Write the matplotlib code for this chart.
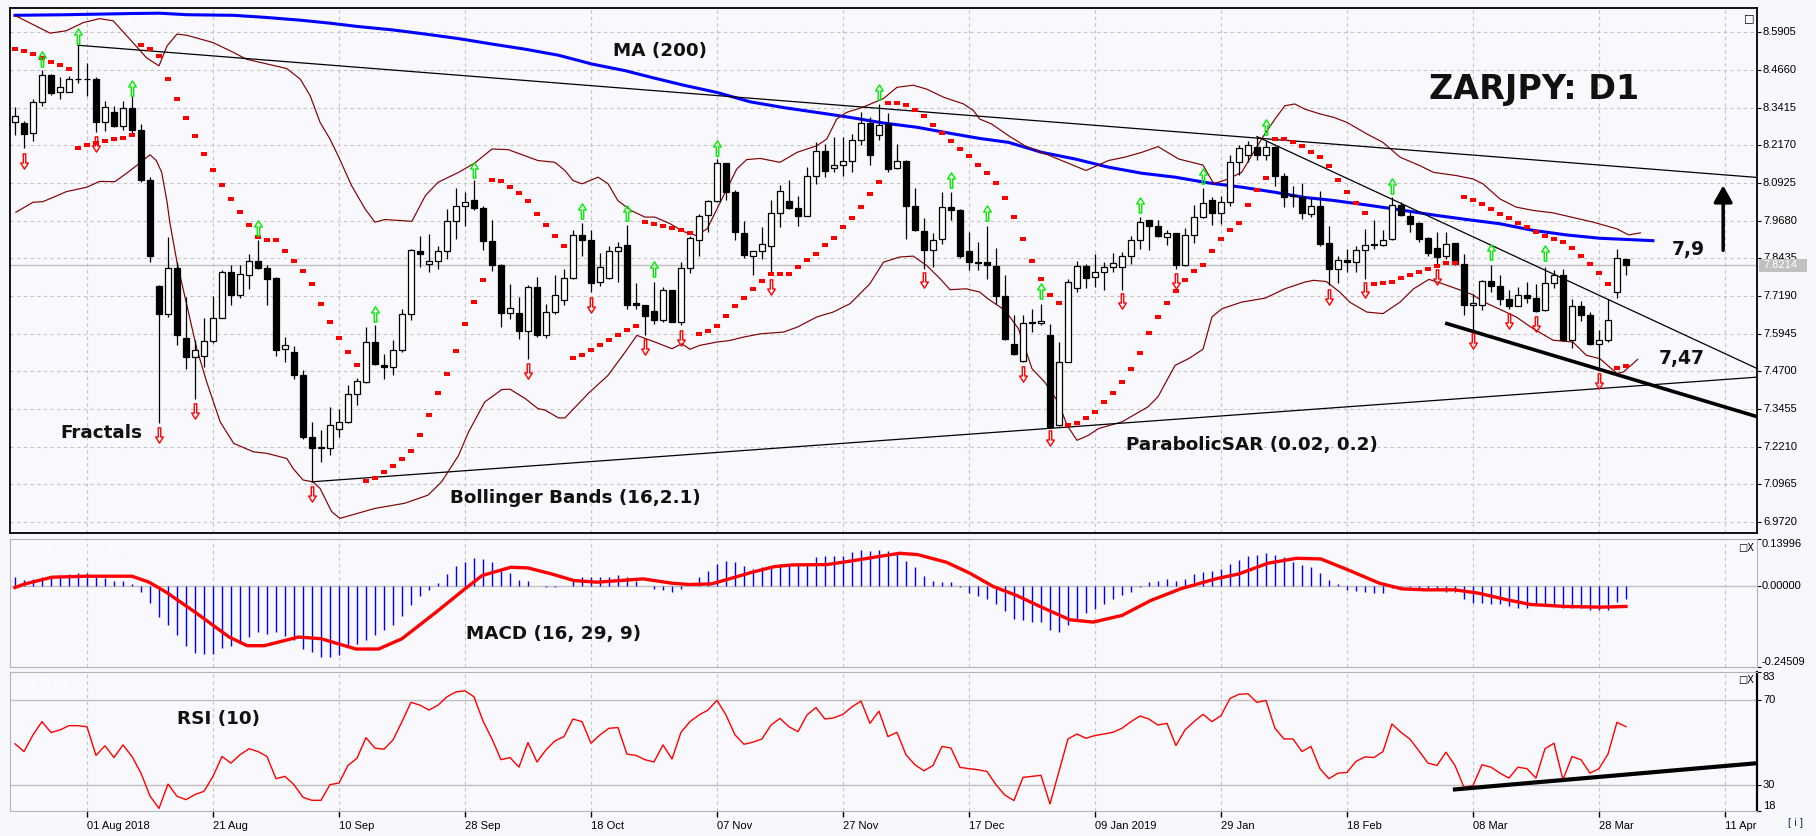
import matplotlib
matplotlib.use("Agg")
import matplotlib.pyplot as plt
from matplotlib.path import Path
from matplotlib.patches import Rectangle

##############################
# Donnees (barres D1, index 0..179)

opens = [8.296, 8.290, 8.257, 8.362, 8.451, 8.392, 8.392, 8.437, 8.437, 8.435,
         8.296, 8.326, 8.280, 8.342, 8.269, 8.101, 7.752, 7.659, 7.811, 7.580,
         7.518, 7.521, 7.570, 7.646, 7.798, 7.721, 7.790, 7.834, 7.811, 7.779,
         7.545, 7.534, 7.459, 7.254, 7.217, 7.217, 7.278, 7.303, 7.396, 7.435,
         7.567, 7.492, 7.484, 7.540, 7.661, 7.867, 7.826, 7.834, 7.867, 7.967,
         8.018, 8.038, 8.009, 7.900, 7.820, 7.663, 7.664, 7.603, 7.749, 7.591,
         7.666, 7.707, 7.778, 7.922, 7.905, 7.765, 7.778, 7.867, 7.888, 7.697,
         7.690, 7.669, 7.639, 7.738, 7.633, 7.811, 7.905, 7.987, 8.033, 8.158,
         8.064, 7.928, 7.851, 7.867, 7.886, 7.993, 8.033, 8.009, 7.983, 8.117,
         8.200, 8.141, 8.153, 8.167, 8.236, 8.290, 8.252, 8.288, 8.141, 8.167,
         8.018, 7.933, 7.870, 7.908, 8.015, 8.005, 7.867, 7.831, 7.831, 7.818,
         7.719, 7.562, 7.504, 7.633, 7.629, 7.591, 7.292, 7.501, 7.745, 7.818,
         7.782, 7.798, 7.815, 7.815, 7.851, 7.905, 7.969, 7.950, 7.914, 7.927,
         7.820, 7.922, 7.980, 8.038, 7.994, 8.029, 8.163, 8.185, 8.211, 8.185,
         8.211, 8.117, 8.053, 8.046, 7.991, 8.016, 7.894, 7.807, 7.839, 7.831,
         7.870, 7.889, 7.889, 7.908, 8.021, 7.985, 7.960, 7.910, 7.877, 7.850,
         7.894, 7.826, 7.688, 7.690, 7.768, 7.752, 7.708, 7.686, 7.723, 7.712,
         7.672, 7.762, 7.787, 7.573, 7.686, 7.657, 7.562, 7.575, 7.732, 7.840]
highs = [8.345, 8.299, 8.372, 8.466, 8.452, 8.442, 8.447, 8.548, 8.491, 8.442,
         8.365, 8.348, 8.365, 8.379, 8.288, 8.112, 7.754, 7.914, 7.831, 7.716,
         7.573, 7.646, 7.719, 7.804, 7.820, 7.820, 7.858, 7.903, 7.820, 7.781,
         7.583, 7.554, 7.476, 7.303, 7.276, 7.353, 7.344, 7.424, 7.448, 7.617,
         7.622, 7.528, 7.573, 7.677, 7.873, 7.919, 7.925, 7.884, 8.007, 8.075,
         8.062, 8.101, 8.018, 7.969, 7.826, 7.760, 7.716, 7.754, 7.782, 7.694,
         7.787, 7.809, 7.936, 7.961, 7.936, 7.861, 7.885, 7.897, 7.954, 7.763,
         7.690, 7.765, 7.749, 7.740, 7.831, 7.919, 7.991, 8.038, 8.172, 8.159,
         8.068, 7.967, 7.868, 7.947, 8.035, 8.086, 8.101, 8.051, 8.145, 8.227,
         8.222, 8.244, 8.246, 8.255, 8.329, 8.310, 8.354, 8.323, 8.222, 8.168,
         8.076, 7.977, 7.927, 8.062, 8.062, 8.006, 7.932, 7.897, 7.950, 7.877,
         7.787, 7.657, 7.655, 7.677, 7.694, 7.627, 7.567, 7.776, 7.836, 7.826,
         7.858, 7.831, 7.861, 7.864, 7.917, 7.980, 7.972, 7.972, 7.936, 7.928,
         7.943, 8.020, 8.075, 8.046, 8.049, 8.186, 8.218, 8.232, 8.246, 8.232,
         8.216, 8.125, 8.084, 8.093, 8.042, 8.065, 7.950, 7.853, 7.875, 7.883,
         7.941, 7.972, 7.936, 8.046, 8.031, 7.996, 7.963, 7.913, 7.930, 7.932,
         7.895, 7.858, 7.727, 7.771, 7.820, 7.787, 7.738, 7.749, 7.767, 7.760,
         7.815, 7.806, 7.809, 7.710, 7.701, 7.666, 7.608, 7.710, 7.875, 7.841]
lows = [8.252, 8.207, 8.233, 8.348, 8.384, 8.370, 8.392, 8.423, 8.381, 8.262,
        8.266, 8.279, 8.269, 8.249, 8.097, 7.831, 7.300, 7.650, 7.556, 7.479,
        7.380, 7.485, 7.564, 7.645, 7.688, 7.714, 7.743, 7.810, 7.690, 7.520,
        7.501, 7.446, 7.246, 7.105, 7.171, 7.193, 7.254, 7.298, 7.358, 7.430,
        7.490, 7.446, 7.457, 7.534, 7.639, 7.815, 7.798, 7.807, 7.840, 7.906,
        7.950, 8.002, 7.870, 7.801, 7.617, 7.642, 7.578, 7.512, 7.584, 7.580,
        7.661, 7.688, 7.774, 7.853, 7.732, 7.751, 7.774, 7.765, 7.677, 7.677,
        7.589, 7.628, 7.633, 7.632, 7.622, 7.795, 7.853, 7.930, 8.031, 8.038,
        7.903, 7.844, 7.790, 7.842, 7.790, 7.947, 8.007, 7.952, 7.982, 8.090,
        8.112, 8.130, 8.117, 8.130, 8.218, 8.153, 8.236, 8.130, 8.139, 7.906,
        7.935, 7.809, 7.815, 7.892, 7.972, 7.845, 7.804, 7.804, 7.774, 7.694,
        7.573, 7.523, 7.501, 7.600, 7.622, 7.285, 7.291, 7.500, 7.734, 7.745,
        7.749, 7.740, 7.798, 7.738, 7.826, 7.873, 7.870, 7.915, 7.888, 7.807,
        7.818, 7.895, 7.976, 7.955, 7.958, 8.016, 8.119, 8.163, 8.169, 8.170,
        8.082, 8.013, 8.013, 7.974, 7.980, 7.884, 7.754, 7.762, 7.798, 7.798,
        7.776, 7.875, 7.886, 7.903, 7.983, 7.930, 7.897, 7.853, 7.815, 7.842,
        7.822, 7.655, 7.606, 7.672, 7.734, 7.690, 7.677, 7.685, 7.697, 7.666,
        7.671, 7.745, 7.569, 7.547, 7.635, 7.556, 7.479, 7.567, 7.712, 7.790]
closes = [8.315, 8.256, 8.362, 8.451, 8.391, 8.411, 8.435, 8.436, 8.436, 8.295,
          8.345, 8.280, 8.342, 8.269, 8.101, 7.853, 7.659, 7.811, 7.589, 7.518,
          7.542, 7.570, 7.646, 7.798, 7.721, 7.791, 7.834, 7.811, 7.774, 7.540,
          7.556, 7.457, 7.254, 7.217, 7.219, 7.292, 7.303, 7.394, 7.438, 7.567,
          7.493, 7.484, 7.540, 7.661, 7.872, 7.859, 7.834, 7.867, 7.967, 8.018,
          8.031, 8.009, 7.900, 7.820, 7.663, 7.679, 7.603, 7.749, 7.589, 7.666,
          7.724, 7.778, 7.922, 7.903, 7.762, 7.815, 7.867, 7.881, 7.691, 7.688,
          7.653, 7.639, 7.738, 7.633, 7.811, 7.910, 7.985, 8.033, 8.158, 8.062,
          7.932, 7.856, 7.867, 7.892, 7.994, 8.065, 8.009, 7.983, 8.117, 8.200,
          8.134, 8.153, 8.164, 8.236, 8.290, 8.186, 8.285, 8.139, 8.167, 8.018,
          7.936, 7.870, 7.903, 8.015, 8.005, 7.853, 7.831, 7.829, 7.822, 7.719,
          7.576, 7.526, 7.630, 7.629, 7.636, 7.286, 7.501, 7.765, 7.818, 7.780,
          7.798, 7.815, 7.828, 7.851, 7.905, 7.963, 7.950, 7.916, 7.927, 7.822,
          7.922, 7.980, 8.026, 7.994, 8.029, 8.163, 8.207, 8.218, 8.186, 8.211,
          8.117, 8.048, 8.049, 7.994, 8.016, 7.892, 7.807, 7.837, 7.831, 7.870,
          7.889, 7.890, 7.905, 8.021, 7.988, 7.958, 7.908, 7.861, 7.848, 7.892,
          7.826, 7.688, 7.696, 7.768, 7.752, 7.708, 7.686, 7.721, 7.712, 7.668,
          7.762, 7.787, 7.573, 7.685, 7.655, 7.562, 7.575, 7.641, 7.844, 7.8214]

# Parabolic SAR (0.02, 0.2)
sar = [8.537, 8.530, 8.519, 8.505, 8.494, 8.482, 8.471, 8.210, 8.217, 8.225,
       8.230, 8.237, 8.243, 8.251, 8.548, 8.537, 8.511, 8.438, 8.370, 8.306,
       8.247, 8.187, 8.135, 8.086, 8.039, 7.996, 7.953, 7.914, 7.905, 7.905,
       7.867, 7.834, 7.801, 7.758, 7.692, 7.633, 7.580, 7.534, 7.492, 7.108,
       7.118, 7.138, 7.158, 7.179, 7.207, 7.260, 7.326, 7.399, 7.461, 7.537,
       7.626, 7.699, 7.772, 8.102, 8.098, 8.079, 8.059, 8.032, 7.989, 7.953,
       7.917, 7.884, 7.514, 7.523, 7.541, 7.557, 7.574, 7.590, 7.607, 7.620,
       7.963, 7.958, 7.950, 7.943, 7.936, 7.929, 7.595, 7.603, 7.620, 7.653,
       7.686, 7.712, 7.742, 7.768, 7.791, 7.791, 7.791, 7.815, 7.838, 7.857,
       7.887, 7.912, 7.947, 7.976, 8.013, 8.055, 8.095, 8.356, 8.356, 8.351,
       8.335, 8.315, 8.286, 8.257, 8.230, 8.205, 8.181, 8.151, 8.125, 8.092,
       8.042, 7.980, 7.907, 7.834, 7.775, 7.724, 7.696, 7.294, 7.298, 7.316,
       7.336, 7.369, 7.399, 7.435, 7.478, 7.531, 7.597, 7.650, 7.696, 7.735,
       7.772, 7.801, 7.821, 7.867, 7.907, 7.937, 7.960, 8.019, 8.069, 8.108,
       8.238, 8.238, 8.227, 8.214, 8.194, 8.178, 8.149, 8.102, 8.062, 8.026,
       7.993, 7.758, 7.763, 7.765, 7.778, 7.789, 7.798, 7.810, 7.818, 7.828,
       7.828, 8.046, 8.038, 8.024, 8.006, 7.989, 7.976, 7.961, 7.947, 7.932,
       7.919, 7.908, 7.897, 7.877, 7.851, 7.826, 7.795, 7.758, 7.481, 7.488]

# Fractals (index de barre, niveau de la fleche)
fract_up_idx = [3, 7, 13, 27, 40, 51, 63, 68, 71, 78, 96, 104, 108, 114, 125, 132, 139, 153, 164, 170]
fract_up_val = [8.504, 8.579, 8.406, 7.943, 7.661, 8.137, 8.000, 7.995, 7.807, 8.210,
                8.392, 8.104, 7.992, 7.735, 8.021, 8.117, 8.277, 8.084, 7.864, 7.862]
fract_dn_idx = [1, 9, 16, 20, 33, 57, 64, 70, 74, 84, 101, 112, 115, 123, 129, 146, 150,
                158, 162, 166, 169, 176]
fract_dn_val = [8.167, 8.222, 7.259, 7.338, 7.065, 7.471, 7.691, 7.551, 7.581, 7.749, 7.771,
                7.460, 7.251, 7.702, 7.768, 7.716, 7.738, 7.783, 7.570, 7.636, 7.625, 7.439]

# MA (200)
ma_idx = [0, 5.7, 13.1, 16.1, 19.1, 24.3, 27.9, 31.7, 35, 38.1, 41.9, 45.6, 49.3, 53, 56.7,
          60.4, 64.1, 67.8, 71.1, 74.3, 78, 81.7, 85.4, 89.1, 92.7, 96.5, 100.2, 103.9, 107.2,
          110.4, 114.1, 117.8, 121.5, 125.2, 128.9, 132.6, 136.3, 140, 143.3, 146.5, 150.2,
          153.9, 157.6, 161.3, 165, 168.7, 172.4, 176.1, 180.6, 182]
ma_val = [8.647, 8.649, 8.653, 8.654, 8.649, 8.647, 8.640, 8.631, 8.621, 8.610, 8.599, 8.585,
          8.570, 8.552, 8.535, 8.515, 8.486, 8.464, 8.439, 8.416, 8.392, 8.361, 8.342, 8.326,
          8.310, 8.291, 8.277, 8.257, 8.240, 8.227, 8.194, 8.172, 8.145, 8.125, 8.112, 8.093,
          8.079, 8.062, 8.045, 8.035, 8.020, 8.004, 7.987, 7.972, 7.958, 7.936, 7.921, 7.910,
          7.904, 7.902]

# Bollinger Bands (16, 2.1)
bb_up_idx = [0.1, 3.9, 5.7, 7.6, 9.4, 10.9, 13.1, 14.6, 16, 16.9, 18, 19.1, 22, 24.3, 25.7, 30.2,
             31.7, 32.8, 33.9, 35, 35.9, 37.4, 38.9, 40, 41.1, 44.1, 45.6, 47, 49.3, 51.1, 53,
             54.8, 58.1, 60, 61.1, 62, 63, 64.8, 65.9, 67, 68.5, 70, 71.1, 72.8, 74.3, 75.7,
             76.9, 78, 80.2, 81.3, 82.8, 85, 86.9, 89.1, 90.2, 91.3, 92.4, 94.2, 96.5, 98,
             99.8, 101.3, 103.2, 105.4, 106.5, 107.2, 108.5, 110.4, 112.2, 114.1, 116.3, 119,
             121.5, 123.3, 125.2, 127, 129.3, 132, 133.2, 134.8, 136.3, 138.5, 140, 141.1,
             142.2, 143.3, 145, 146.5, 148, 150.2, 152, 153.9, 156.1, 157.6, 160.2, 162,
             163.1, 165, 166.8, 168.7, 170.9, 173.5, 175.4, 178, 179.3, 180.6]
bb_up_val = [8.645, 8.588, 8.596, 8.623, 8.636, 8.629, 8.557, 8.507, 8.480, 8.546, 8.585, 8.581,
             8.557, 8.524, 8.502, 8.471, 8.436, 8.381, 8.293, 8.238, 8.183, 8.084, 8.007, 7.963,
             7.972, 7.966, 8.051, 8.095, 8.128, 8.159, 8.205, 8.203, 8.167, 8.161, 8.134, 8.101,
             8.090, 8.112, 8.090, 8.034, 8.001, 7.980, 7.980, 7.958, 7.932, 7.919, 7.941, 8.007,
             8.139, 8.170, 8.174, 8.161, 8.194, 8.216, 8.238, 8.304, 8.326, 8.343, 8.372, 8.409,
             8.416, 8.403, 8.376, 8.354, 8.332, 8.304, 8.288, 8.249, 8.216, 8.194, 8.167, 8.134,
             8.167, 8.178, 8.194, 8.213, 8.172, 8.152, 8.090, 8.106, 8.128, 8.238, 8.304, 8.348,
             8.354, 8.337, 8.321, 8.310, 8.293, 8.255, 8.227, 8.178, 8.150, 8.128, 8.117, 8.106,
             8.090, 8.040, 8.013, 8.002, 7.994, 7.976, 7.963, 7.941, 7.921, 7.928]
bb_lo_idx = [0.1, 2, 3.1, 4.3, 5.7, 8, 9.4, 11.1, 12.4, 13.5, 15, 15.7, 16.3, 16.9, 17.2, 18, 19.1,
             20.2, 21.3, 22.8, 24.3, 26.5, 28, 30.2, 30.9, 32, 33.1, 33.9, 35, 35.2, 36.1, 38.1,
             40, 43.3, 45.9, 47.4, 49.3, 50.4, 52.2, 54.1, 55, 56.7, 58.1, 58.9, 60.4, 61.1,
             63.7, 65.9, 67.8, 69.1, 71.1, 73, 74.1, 75, 76.1, 78, 79.4, 80.9, 82.8, 85.4, 86.9,
             89.1, 90.9, 92.8, 95, 96.5, 98.3, 99.8, 101.3, 102.8, 103.9, 105.7, 107.2, 108.1,
             110, 111.5, 113, 114.4, 115.9, 116.9, 118, 119.3, 120.4, 123, 125.9, 127, 128.9,
             130.4, 132, 133, 134.1, 136.3, 138.9, 141.1, 143.3, 144.3, 145.7, 147.2, 148.3,
             150.2, 152, 153.9, 155.4, 157.1, 158.3, 160.2, 162, 163.1, 165, 166.8, 168.7,
             170.9, 173.1, 174.6, 176.1, 178, 178.7, 179.8, 180.3]
bb_lo_val = [7.996, 8.029, 8.031, 8.046, 8.064, 8.079, 8.098, 8.097, 8.125, 8.150, 8.186, 8.167,
             8.128, 8.029, 7.963, 7.831, 7.688, 7.545, 7.435, 7.303, 7.232, 7.204, 7.199, 7.182,
             7.149, 7.111, 7.105, 7.083, 7.017, 7.006, 6.984, 7.001, 7.017, 7.034, 7.061, 7.105,
             7.193, 7.270, 7.369, 7.410, 7.411, 7.380, 7.347, 7.342, 7.316, 7.316, 7.397, 7.457,
             7.534, 7.589, 7.567, 7.545, 7.561, 7.543, 7.556, 7.567, 7.572, 7.583, 7.594, 7.600,
             7.616, 7.650, 7.666, 7.694, 7.760, 7.831, 7.848, 7.851, 7.820, 7.776, 7.740, 7.743,
             7.732, 7.710, 7.672, 7.611, 7.479, 7.435, 7.369, 7.292, 7.242, 7.259, 7.281, 7.303,
             7.353, 7.386, 7.490, 7.512, 7.543, 7.650, 7.677, 7.699, 7.712, 7.743, 7.765, 7.771,
             7.767, 7.732, 7.699, 7.666, 7.661, 7.699, 7.743, 7.774, 7.763, 7.743, 7.723, 7.701,
             7.675, 7.650, 7.611, 7.573, 7.567, 7.523, 7.512, 7.463, 7.468, 7.496, 7.510]

# Lignes de tendance et fleche (index, prix)
trend_thin = [((7, 8.548), (193.6, 8.111)),
              ((33, 7.105), (193.6, 7.451)),
              ((138, 8.246), (193.6, 7.479))]
trend_thick = ((159.1, 7.628), (193.6, 7.320))
arrow_pts = ((189.8, 7.861), (189.8, 8.094))

# MACD (16, 29, 9) : histogramme + signal
macd_hist = [0.026, 0.016, 0.019, 0.027, 0.025, 0.031, 0.035, 0.037, 0.037, 0.027,
             0.022, 0.014, 0.014, 0.005, -0.020, -0.053, -0.095, -0.118, -0.150, -0.181,
             -0.203, -0.206, -0.206, -0.188, -0.181, -0.171, -0.155, -0.140, -0.145, -0.140,
             -0.153, -0.165, -0.191, -0.201, -0.216, -0.216, -0.209, -0.186, -0.176, -0.165,
             -0.148, -0.135, -0.118, -0.093, -0.060, -0.033, -0.012, 0.008, 0.035, 0.060,
             0.072, 0.082, 0.080, 0.070, 0.045, 0.038, 0.017, 0.015, 0.000, -0.003,
             -0.005, 0.000, 0.015, 0.027, 0.025, 0.025, 0.025, 0.033, 0.025, 0.013,
             0.000, -0.010, -0.013, -0.020, -0.010, 0.000, 0.025, 0.043, 0.065, 0.075,
             0.070, 0.060, 0.050, 0.055, 0.057, 0.065, 0.063, 0.065, 0.068, 0.085,
             0.090, 0.090, 0.090, 0.100, 0.107, 0.105, 0.107, 0.103, 0.098, 0.075,
             0.057, 0.030, 0.015, 0.012, 0.010, -0.003, -0.023, -0.032, -0.040, -0.055,
             -0.077, -0.100, -0.105, -0.110, -0.110, -0.135, -0.140, -0.120, -0.100, -0.083,
             -0.070, -0.055, -0.040, -0.027, -0.020, -0.005, 0.010, 0.013, 0.020, 0.015,
             0.020, 0.035, 0.040, 0.043, 0.050, 0.065, 0.077, 0.090, 0.093, 0.098,
             0.093, 0.085, 0.070, 0.062, 0.055, 0.037, 0.017, 0.005, -0.013, -0.017,
             -0.020, -0.023, -0.023, -0.007, -0.005, -0.005, -0.007, -0.010, -0.013, -0.018,
             -0.020, -0.040, -0.053, -0.053, -0.055, -0.057, -0.063, -0.067, -0.068, -0.060,
             -0.060, -0.060, -0.067, -0.067, -0.067, -0.073, -0.075, -0.073, -0.050, -0.040]
sig_idx = [0, 1, 4.1, 7.9, 13, 14.9, 16.8, 20, 23.8, 25.8, 27.7, 31.5, 34, 37.9, 40.4, 43,
           46.8, 50, 51.9, 55.1, 57, 59.6, 62.1, 64.7, 67.2, 69.8, 73, 74.9, 77.4, 80, 81.9,
           84.4, 86.4, 90.2, 92.7, 95.9, 98.3, 100.3, 103.5, 106.1, 108.7, 111.3, 113.9,
           117.2, 119.8, 123, 126.2, 129.5, 133.4, 136, 139.2, 142.4, 145.1, 148.3, 151.6,
           154.1, 156.7, 160, 162.6, 165.8, 168.4, 172.3, 176.2, 179]
sig_val = [-0.006, 0.004, 0.025, 0.028, 0.028, 0.010, -0.020, -0.080, -0.155, -0.181, -0.181,
           -0.155, -0.160, -0.191, -0.191, -0.160, -0.080, -0.010, 0.030, 0.055, 0.053, 0.035,
           0.015, 0.010, 0.015, 0.020, 0.007, 0.003, 0.005, 0.025, 0.040, 0.057, 0.062, 0.063,
           0.073, 0.087, 0.097, 0.093, 0.070, 0.037, -0.003, -0.030, -0.063, -0.103, -0.110,
           -0.090, -0.045, -0.010, 0.020, 0.035, 0.067, 0.082, 0.080, 0.045, 0.007, -0.010,
           -0.013, -0.013, -0.023, -0.043, -0.057, -0.063, -0.065, -0.063]

# RSI (10)
rsi = [49.4, 45.8, 53.6, 59.8, 54.7, 55.9, 57.9, 57.9, 57.4, 44.0,
       48.5, 43.0, 48.9, 43.5, 35.7, 25.0, 19.2, 30.6, 24.9, 23.3,
       25.7, 27.2, 34.2, 43.5, 40.4, 44.3, 47.1, 45.8, 43.5, 33.1,
       34.2, 30.3, 24.4, 23.0, 23.0, 30.3, 31.1, 39.3, 42.7, 52.3,
       47.4, 46.9, 51.2, 59.8, 68.8, 67.5, 65.2, 67.5, 71.4, 73.7,
       74.2, 71.4, 60.1, 51.7, 42.0, 43.0, 38.5, 50.0, 40.9, 46.6,
       50.8, 52.8, 61.0, 59.8, 49.7, 53.6, 56.7, 57.0, 44.6, 44.0,
       42.0, 40.9, 48.9, 42.3, 54.8, 59.8, 62.9, 65.2, 69.8, 62.9,
       53.6, 49.2, 50.2, 51.7, 58.2, 61.3, 57.4, 55.1, 62.9, 66.4,
       61.0, 61.6, 63.2, 66.7, 69.4, 59.0, 64.7, 52.8, 54.8, 44.3,
       39.6, 36.8, 39.3, 48.2, 47.4, 38.4, 37.8, 37.3, 36.5, 30.3,
       25.4, 22.9, 33.7, 34.2, 34.7, 21.3, 36.5, 51.7, 54.0, 52.0,
       53.3, 54.0, 54.8, 56.7, 59.8, 62.4, 61.0, 58.2, 59.0, 48.6,
       55.9, 59.8, 63.2, 59.8, 62.6, 70.6, 72.6, 72.8, 68.8, 69.7,
       56.7, 51.7, 51.7, 45.8, 48.2, 37.8, 33.1, 35.7, 36.0, 41.2,
       43.3, 43.0, 45.8, 58.7, 54.8, 51.6, 46.1, 40.4, 39.3, 45.5,
       39.3, 29.1, 29.9, 39.6, 38.5, 35.7, 33.4, 38.5, 37.8, 33.4,
       47.1, 49.7, 32.6, 43.5, 42.0, 35.7, 37.8, 44.6, 59.5, 57.4]
rsi_trend = ((160, 28.1), (193.4, 40.3))

# Axes
price_ticks = [8.5905, 8.4660, 8.3415, 8.2170, 8.0925, 7.9680, 7.8435,
               7.7190, 7.5945, 7.4700, 7.3455, 7.2210, 7.0965, 6.9720]
macd_ticks = [0.13996, 0.0, -0.24509]
rsi_ticks = [83, 70, 30, 18]
date_labels = ['01 Aug 2018', '21 Aug', '10 Sep', '28 Sep', '18 Oct', '07 Nov', '27 Nov',
               '17 Dec', '09 Jan 2019', '29 Jan', '18 Feb', '08 Mar', '28 Mar', '11 Apr']
date_pos = [8 + 14*k for k in range(len(date_labels))]


##############################
# Mise en page

W, H = 1816, 836
fig = plt.figure(figsize=(W/100, H/100), dpi=100)
fig.patch.set_facecolor('#f7f8fc')
BG = '#f8f8fd'
GRID = '#c4c4c4'
LBL = dict(fontsize=8, family=['Liberation Sans', 'DejaVu Sans'], color='black')

def box(x0, y0, x1, y1):
    return [x0/W, 1 - y1/H, (x1-x0)/W, (y1-y0)/H]

ax = fig.add_axes(box(9.5, 8, 1757, 533))
axm = fig.add_axes(box(9.5, 539, 1757, 667))
axr = fig.add_axes(box(9.5, 672, 1757, 811))

xmin, xmax = -0.61, 193.56
for a in (ax, axm, axr):
    a.set_facecolor(BG)
    a.set_xlim(xmin, xmax)
    a.set_xticks(date_pos)
    a.grid(axis='x', color=GRID, lw=0.8, ls=(0, (3, 3)))
    a.tick_params(axis='x', labelbottom=False, length=0)
    a.tick_params(axis='y', left=False, labelleft=False, right=True, labelright=False,
                  length=3, width=0.8)

xa = 1.0034  # position des libelles de droite (fraction d'axe)

##############################
# Graphique principal

ax.set_ylim(6.9357, 8.6712)
ax.set_yticks(price_ticks)
ax.grid(axis='y', color=GRID, lw=0.8, ls=(0, (3, 3)))
for sp in ax.spines.values():
    sp.set_color('black')
    sp.set_linewidth(1.3)

idx = list(range(len(closes)))
ax.axhline(closes[-1], color='#c0c0c0', lw=1, zorder=1)

ax.plot(ma_idx, ma_val, color='#0000ff', lw=2.2, zorder=4)
ax.plot(bb_up_idx, bb_up_val, color='#800000', lw=0.85, zorder=4)
ax.plot(bb_lo_idx, bb_lo_val, color='#800000', lw=0.85, zorder=4)

for (p0, p1) in trend_thin:
    ax.plot([p0[0], p1[0]], [p0[1], p1[1]], color='black', lw=0.9, zorder=4)
ax.plot([trend_thick[0][0], trend_thick[1][0]], [trend_thick[0][1], trend_thick[1][1]],
        color='black', lw=2.6, zorder=4)

# bougies
ax.vlines(idx, lows, highs, color='black', lw=0.9, zorder=5)
bottoms = [min(o, c) for o, c in zip(opens, closes)]
heights = [max(abs(c - o), 0.0015) for o, c in zip(opens, closes)]
colors = ['white' if c > o else 'black' for o, c in zip(opens, closes)]
ax.bar(idx, heights, bottom=bottoms, width=0.64, color=colors, edgecolor='black',
       linewidth=0.9, zorder=6)

# Parabolic SAR
rect = Path([(-1, -0.5), (1, -0.5), (1, 0.5), (-1, 0.5), (-1, -0.5)],
            [Path.MOVETO, Path.LINETO, Path.LINETO, Path.LINETO, Path.CLOSEPOLY])
ax.plot(idx, sar, ls='none', marker=rect, ms=5, color='#ff0000', mew=0, zorder=7)

# Fractals
up_arrow = Path([(0, 1), (0.5, 0.2), (0.16, 0.2), (0.16, -1), (-0.16, -1),
                 (-0.16, 0.2), (-0.5, 0.2), (0, 1)],
                [Path.MOVETO] + [Path.LINETO]*6 + [Path.CLOSEPOLY])
dn_arrow = Path([(x, -y) for (x, y) in up_arrow.vertices], up_arrow.codes)
ax.plot(fract_up_idx, fract_up_val, ls='none', marker=up_arrow, ms=11, mfc='none',
        mec='#00ee00', mew=1, zorder=8)
ax.plot(fract_dn_idx, fract_dn_val, ls='none', marker=dn_arrow, ms=11, mfc='none',
        mec='#ff0000', mew=1, zorder=8)

ax.annotate('', xy=arrow_pts[1], xytext=arrow_pts[0], zorder=8,
            arrowprops=dict(arrowstyle='-|>,head_length=0.5,head_width=0.28',
                            color='black', lw=2.5, mutation_scale=20))

# textes
BOLD = dict(fontweight='bold', color='#111111', family='DejaVu Sans', zorder=9)
ax.text(168.8, 8.403, 'ZARJPY: D1', fontsize=24, ha='center', va='center', **BOLD)
ax.text(71.7, 8.529, 'MA (200)', fontsize=13.2, ha='center', va='center', **BOLD)
ax.text(185.9, 7.874, '7,9', fontsize=13.5, ha='center', va='center', **BOLD)
ax.text(185.2, 7.514, '7,47', fontsize=13.5, ha='center', va='center', **BOLD)
ax.text(9.6, 7.265, 'Fractals', fontsize=13.2, ha='center', va='center', **BOLD)
ax.text(62.3, 7.050, 'Bollinger Bands (16,2.1)', fontsize=13.2, ha='center', va='center', **BOLD)
ax.text(137.4, 7.228, 'ParabolicSAR (0.02, 0.2)', fontsize=13.2, ha='center', va='center', **BOLD)
ax.text(0.004, 0.985, 'ZARJPY,Daily  7.8214', transform=ax.transAxes, color='white',
        fontsize=8, va='top')
ax.text(0.9955, 0.99, '\u25a1', transform=ax.transAxes, fontsize=8, ha='center', va='top')

for v in price_ticks:
    ax.text(xa, v, '%.4f' % v, transform=ax.get_yaxis_transform(), ha='left', va='center',
            clip_on=False, **LBL)
# etiquette du dernier prix
h_tag = 13 / 302.5
ax.add_patch(Rectangle((1.0013, closes[-1] - h_tag/2), 0.0275, h_tag, facecolor='#c0c0c0',
                       edgecolor='none', transform=ax.get_yaxis_transform(), clip_on=False,
                       zorder=10))
ax.text(xa, closes[-1], '%.4f' % closes[-1], transform=ax.get_yaxis_transform(), ha='left',
        va='center', clip_on=False, zorder=11, fontsize=8,
        family=['Liberation Sans', 'DejaVu Sans'], color='white')

##############################
# MACD

axm.set_ylim(-0.24509, 0.13996)
axm.set_yticks(macd_ticks)
for sp in axm.spines.values():
    sp.set_color('#b4b4b4')
axm.axhline(0, color='#c0c0c0', lw=1, zorder=1)
axm.vlines(idx, 0, macd_hist, color='#0000ff', lw=1, zorder=3)
axm.plot(sig_idx, sig_val, color='#ff0000', lw=2.4, zorder=4)
axm.text(59.8, -0.146, 'MACD (16, 29, 9)', fontsize=13.2, ha='center', va='center', **BOLD)
axm.text(0.004, 0.95, 'MACD (12, 26, 9)', transform=axm.transAxes, color='white', fontsize=9,
         va='top')
axm.text(0.9935, 0.97, '\u25a1X', transform=axm.transAxes, fontsize=7, ha='center', va='top')
for v, s, va in zip(macd_ticks, ['0.13996', '0.00000', '-0.24509'], ['top', 'center', 'bottom']):
    axm.text(xa - 0.0008, v, s, transform=axm.get_yaxis_transform(), ha='left', va=va,
             clip_on=False, **LBL)

##############################
# RSI

axr.set_ylim(18, 83)
axr.set_yticks(rsi_ticks)
for sp in axr.spines.values():
    sp.set_color('#b4b4b4')
axr.spines['right'].set_color('black')
axr.spines['right'].set_linewidth(1.6)
axr.axhline(70, color='#c0c0c0', lw=1, zorder=1)
axr.axhline(30, color='#c0c0c0', lw=1, zorder=1)
axr.plot(idx, rsi, color='#ff0000', lw=1, zorder=3)
axr.plot([rsi_trend[0][0], rsi_trend[1][0]], [rsi_trend[0][1], rsi_trend[1][1]],
         color='black', lw=3, zorder=4)
axr.text(22.6, 61.0, 'RSI (10)', fontsize=13.2, ha='center', va='center', **BOLD)
axr.text(0.004, 0.95, 'RSI (10)', transform=axr.transAxes, color='white', fontsize=9, va='top')
axr.text(0.9935, 0.98, '\u25a1X', transform=axr.transAxes, fontsize=7, ha='center', va='top')
for v, va in zip(rsi_ticks, ['top', 'center', 'center', 'bottom']):
    axr.text(xa, v, str(v), transform=axr.get_yaxis_transform(), ha='left', va=va,
             clip_on=False, **LBL)

axr.tick_params(axis='x', labelbottom=True, length=4, width=1, color='black', pad=3)
axr.set_xticklabels(date_labels, ha='left', **LBL)

fig.text(1796/W, 1 - 823/H, '[ i ]', ha='center', va='center', fontsize=8,
         family=['Liberation Sans', 'DejaVu Sans'], color='#203060')

fig.savefig('out.png', dpi=100, facecolor=fig.get_facecolor())
